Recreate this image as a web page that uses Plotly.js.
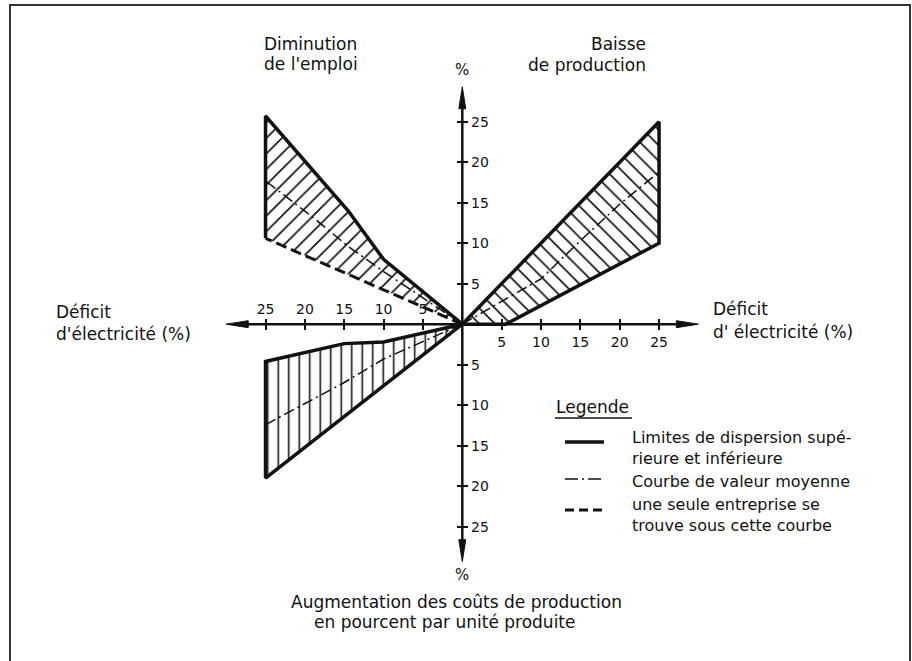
<!DOCTYPE html>
<html><head><meta charset="utf-8">
<script src="https://cdn.plot.ly/plotly-3.0.1.min.js"></script>
<style>html,body{margin:0;padding:0;background:#fff}</style>
</head><body><div id="chart" style="width:912px;height:661px"></div>
<script>
// ---------- DATA ----------
// Quadrant I : Déficit d'électricité (right) vs Baisse de production (up)
const q1UpperX = [0, 14, 25];
const q1UpperY = [0, 14, 25];
const q1LowerX = [0, 5.5, 25];
const q1LowerY = [0, 0, 10];
const q1MeanX  = [0, 5, 10, 15, 20, 25];
const q1MeanY  = [0, 2.8, 5.6, 10.3, 14.8, 18.8];
// Quadrant II : Déficit (left) vs Diminution de l'emploi (up)
const q2UpperX = [0, -10, -14.5, -25];
const q2UpperY = [0, 8, 14, 25.7];
const q2LowerX = [0, -25];      // dashed: une seule entreprise sous cette courbe
const q2LowerY = [0, 10.6];
const q2MeanX  = [0, -5, -10, -14.5, -19, -25];
const q2MeanY  = [0, 3.2, 6.5, 9.6, 13.2, 17.7];
// Quadrant III : Déficit (left) vs Augmentation des coûts (down)
const q3UpperX = [0, -10, -15, -25];
const q3UpperY = [0, -2.2, -2.4, -4.6];
const q3LowerX = [0, -25];
const q3LowerY = [0, -19];
const q3MeanX  = [0, -5, -10, -15, -20, -25];
const q3MeanY  = [0, -2.1, -4.3, -7.2, -9.8, -12.4];

// Ticks
const xTickVals   = [-25, -20, -15, -10, -5, 5, 10, 15, 20, 25];
const xTextBelow  = ['', '', '', '', '', '5', '10', '15', '20', '25'];
const xTextAbove  = ['25', '20', '15', '10', '5', '', '', '', '', ''];
const yTickVals   = [-25, -20, -15, -10, -5, 5, 10, 15, 20, 25];
const yTickText   = ['25', '20', '15', '10', '5', '5', '10', '15', '20', '25'];
// Axis arrow extents
const axisX = 30, axisY = 29.3;

// ---------- LAYOUT HELPERS ----------
const W = 912, H = 661;
const INK = '#111';
const FONT = 'DejaVu Sans';
const xr = [-58.74, 57.14], yr = [-41.58, 40.02];
const px = v => v / W, py = v => 1 - v / H;

function poly(ux, uy, lx, ly) {
  return {x: ux.concat(lx.slice().reverse()), y: uy.concat(ly.slice().reverse())};
}
function fillTrace(p, shape, size) {
  return {type: 'scatter', mode: 'lines', x: p.x, y: p.y, fill: 'toself',
    fillcolor: 'rgba(0,0,0,0)', line: {width: 0}, hoverinfo: 'skip', showlegend: false,
    fillpattern: {shape: shape, size: size, solidity: 0.15, fgcolor: INK, bgcolor: 'rgba(0,0,0,0)', fillmode: 'replace'}};
}
function lineTrace(x, y, width, dash) {
  return {type: 'scatter', mode: 'lines', x: x, y: y, hoverinfo: 'skip', showlegend: false,
    line: {color: INK, width: width, dash: dash || 'solid'}};
}
const MEAN_DASH = '11px,4px,2px,4px';

const p1 = poly(q1UpperX, q1UpperY, q1LowerX, q1LowerY);
const p2 = poly(q2UpperX, q2UpperY, q2LowerX, q2LowerY);
const p3 = poly(q3UpperX, q3UpperY, q3LowerX, q3LowerY);

const traces = [
  fillTrace(p1, '\\', 11),
  fillTrace(p2, '/', 11),
  fillTrace(p3, '|', 10.5),
  lineTrace(q1MeanX, q1MeanY, 1.5, MEAN_DASH),
  lineTrace(q2MeanX, q2MeanY, 1.5, MEAN_DASH),
  lineTrace(q3MeanX, q3MeanY, 1.5, MEAN_DASH),
  lineTrace(p1.x, p1.y, 3.5),
  lineTrace(q2UpperX.concat([q2LowerX[q2LowerX.length - 1]]), q2UpperY.concat([q2LowerY[q2LowerY.length - 1]]), 3.5),
  lineTrace(q2LowerX, q2LowerY, 3, '11px,5px'),
  lineTrace(p3.x, p3.y, 3.5),
  // carrier for overlay axes
  {type: 'scatter', mode: 'markers', x: [0], y: [0], xaxis: 'x2', yaxis: 'y2', marker: {opacity: 0}, hoverinfo: 'skip', showlegend: false}
];

// axis lines + arrowheads
const hx = 2.8, hy = 2.7, wx = 0.44, wy = 0.43;
const shapes = [
  {type: 'line', xref: 'x', yref: 'y', x0: -axisX + 1, y0: 0, x1: axisX - 1, y1: 0, line: {color: INK, width: 2.5}},
  {type: 'line', xref: 'x', yref: 'y', x0: 0, y0: -axisY + 1, x1: 0, y1: axisY - 1, line: {color: INK, width: 2.5}},
  {type: 'path', xref: 'x', yref: 'y', path: `M${axisX},0 L${axisX - hx},${wy} L${axisX - hx},${-wy} Z`, fillcolor: INK, line: {color: INK, width: 1}},
  {type: 'path', xref: 'x', yref: 'y', path: `M${-axisX},0 L${-axisX + hx},${wy} L${-axisX + hx},${-wy} Z`, fillcolor: INK, line: {color: INK, width: 1}},
  {type: 'path', xref: 'x', yref: 'y', path: `M0,${axisY} L${wx},${axisY - hy} L${-wx},${axisY - hy} Z`, fillcolor: INK, line: {color: INK, width: 1}},
  {type: 'path', xref: 'x', yref: 'y', path: `M0,${-axisY} L${wx},${-axisY + hy} L${-wx},${-axisY + hy} Z`, fillcolor: INK, line: {color: INK, width: 1}},
  // frame
  {type: 'rect', xref: 'paper', yref: 'paper', x0: px(10), x1: px(910), y0: -0.05, y1: py(5), line: {color: '#333', width: 2}},
  // legend
  {type: 'line', xref: 'paper', yref: 'paper', x0: px(555), x1: px(632), y0: py(418), y1: py(418), line: {color: INK, width: 1.5}},
  {type: 'line', xref: 'paper', yref: 'paper', x0: px(565), x1: px(604), y0: py(442), y1: py(442), line: {color: INK, width: 3.5}},
  {type: 'line', xref: 'paper', yref: 'paper', x0: px(565), x1: px(604), y0: py(479), y1: py(479), line: {color: INK, width: 1.5, dash: '13px,4px,2px,4px'}},
  {type: 'line', xref: 'paper', yref: 'paper', x0: px(565), x1: px(604), y0: py(510), y1: py(510), line: {color: INK, width: 3, dash: '9px,5px'}}
];

function txt(t, x, y, anchor, size) {
  return {text: t, xref: 'paper', yref: 'paper', x: px(x), y: py(y), xanchor: anchor || 'left', yanchor: 'middle',
    align: 'left', showarrow: false, borderpad: 0, font: {family: FONT, size: size || 17, color: INK}};
}
const annotations = [
  txt('Diminution', 263, 44),
  txt("de l'emploi", 263, 64),
  txt('Baisse', 647, 44, 'right'),
  txt('de production', 647, 65, 'right'),
  txt('%', 462, 70, 'center', 15),
  txt('Déficit', 55, 312),
  txt("d'électricité (%)", 55, 334),
  txt('Déficit', 712, 309),
  txt("d' électricité (%)", 712, 332),
  txt('%', 462, 575, 'center', 15),
  txt('Augmentation des coûts de production', 290, 602),
  txt('en pourcent par unité produite', 313, 622),
  txt('Legende', 555, 407),
  txt('Limites de dispersion supé-<br>rieure et inférieure', 631, 448, 'left', 16),
  txt('Courbe de valeur moyenne', 631, 481, 'left', 16),
  txt('une seule entreprise se<br>trouve sous cette courbe', 631, 515, 'left', 16)
];

const tickFont = {family: FONT, size: 14, color: INK};
const xpos = 1 - 324.2 / H, ypos = 462.3 / W;
const layout = {
  width: W, height: H, margin: {l: 0, r: 0, t: 0, b: 0},
  paper_bgcolor: '#fff', plot_bgcolor: 'rgba(0,0,0,0)', showlegend: false, hovermode: false,
  xaxis: {range: xr, anchor: 'free', position: xpos, side: 'bottom', showline: false, showgrid: false, zeroline: false,
    tickmode: 'array', tickvals: xTickVals, ticktext: xTextBelow, ticks: 'outside', ticklen: 5, tickwidth: 2, tickcolor: INK, tickfont: tickFont},
  xaxis2: {range: xr, overlaying: 'x', anchor: 'free', position: xpos, side: 'top', showline: false, showgrid: false, zeroline: false,
    tickmode: 'array', tickvals: xTickVals, ticktext: xTextAbove, ticks: 'outside', ticklen: 5, tickwidth: 2, tickcolor: INK, tickfont: tickFont},
  yaxis: {range: yr, anchor: 'free', position: ypos, side: 'right', showline: false, showgrid: false, zeroline: false,
    tickmode: 'array', tickvals: yTickVals, ticktext: yTickText, ticks: 'outside', ticklen: 5, tickwidth: 2, tickcolor: INK, tickfont: tickFont},
  yaxis2: {range: yr, overlaying: 'y', anchor: 'free', position: ypos, side: 'left', showline: false, showgrid: false, zeroline: false,
    tickmode: 'array', tickvals: yTickVals, showticklabels: false, ticks: 'outside', ticklen: 5, tickwidth: 2, tickcolor: INK},
  shapes: shapes, annotations: annotations
};
Plotly.newPlot('chart', traces, layout, {staticPlot: true, displayModeBar: false});
</script></body></html>
